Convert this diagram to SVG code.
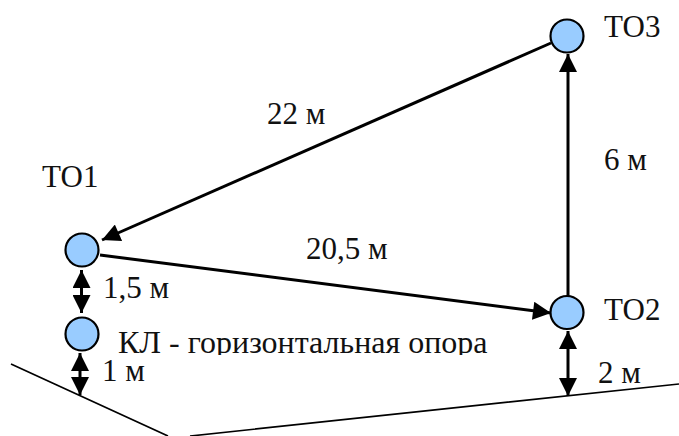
<svg xmlns="http://www.w3.org/2000/svg" width="679" height="436" viewBox="0 0 679 436">
<style>
text{font-family:"Liberation Serif","Times New Roman",serif;font-size:31px;fill:#111}
.n{fill:#99ccff;stroke:#000;stroke-width:2.2}
.c{stroke:#000;stroke-width:3;fill:none}
.g{stroke:#000;stroke-width:1.7;fill:none}
</style>
<defs>
<marker id="a" markerUnits="userSpaceOnUse" markerWidth="20" markerHeight="18" refX="16" refY="8" orient="auto-start-reverse" viewBox="0 0 17 16"><path d="M0 0L16 8L0 16Z" fill="#000"/></marker>
<clipPath id="kl"><rect x="100" y="320" width="420" height="35"/></clipPath>
</defs>
<g id="connectors">
<path class="c" d="M551 43L102 240" marker-end="url(#a)"/>
<path class="c" d="M100 255L551 313" marker-end="url(#a)"/>
<path class="c" d="M568 296V54" marker-end="url(#a)"/>
<path class="c" d="M81.500 270V313" marker-start="url(#a)" marker-end="url(#a)"/>
<path class="c" d="M80 353V395" marker-start="url(#a)" marker-end="url(#a)"/>
<path class="c" d="M568 331V396" marker-start="url(#a)" marker-end="url(#a)"/>
<path class="g" d="M11 364L168 436M190 436L679 384"/>
</g>
<g id="to1"><circle class="n" cx="82" cy="250" r="16.5"/><text x="42" y="187">ТО1</text></g>
<g id="kl-node"><circle class="n" cx="82" cy="334" r="16.5"/><text x="118" y="353" style="font-size:32px" clip-path="url(#kl)">КЛ - горизонтальная опора</text></g>
<g id="to2"><circle class="n" cx="567" cy="312.500" r="16.500"/><text x="604" y="320">ТО2</text></g>
<g id="to3"><circle class="n" cx="567" cy="36" r="16.500"/><text x="604" y="37">ТО3</text></g>
<g id="labels">
<text x="267" y="124">22 м</text>
<text x="306" y="259">20,5 м</text>
<text x="604" y="170">6 м</text>
<text x="103" y="298">1,5 м</text>
<text x="102" y="381">1 м</text>
<text x="598" y="383">2 м</text>
</g>
</svg>
